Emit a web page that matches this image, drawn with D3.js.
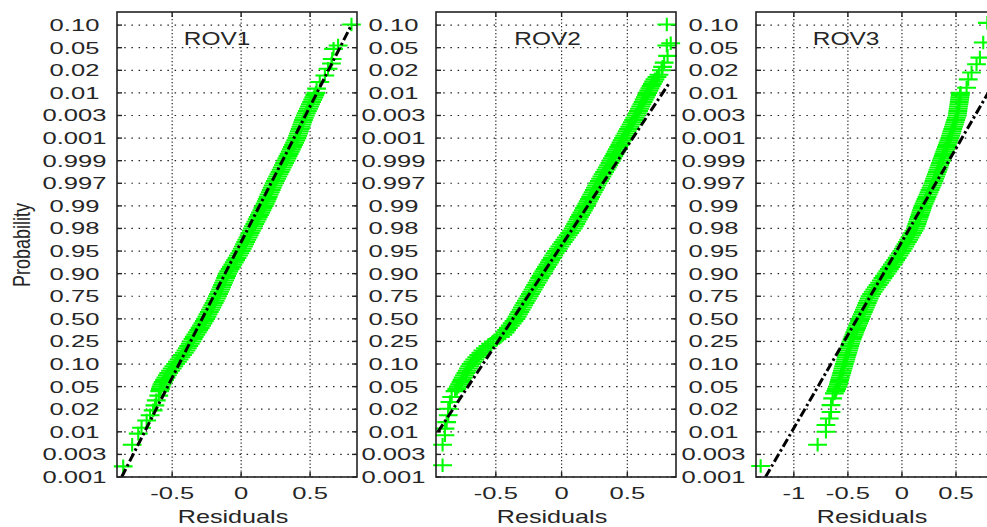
<!DOCTYPE html>
<html>
<head>
<meta charset="utf-8">
<script src="https://cdn.jsdelivr.net/npm/d3@7"></script>
<style>
  body { margin: 0; background: #fff; }
  svg { display: block; }
  text { font-family: "Liberation Sans", Arial, sans-serif; fill: #262626; }
</style>
</head>
<body>
<svg id="chart" width="987" height="527"></svg>
<script>
// ---- data ----
const panelNames = ["ROV1", "ROV2", "ROV3"];

// probability tick labels, bottom to top (one per grid row)
const yTickLabels = ["0.001", "0.003", "0.01", "0.02", "0.05", "0.10", "0.25", "0.50", "0.75",
  "0.90", "0.95", "0.98", "0.99", "0.997", "0.999", "0.001", "0.003", "0.01", "0.02", "0.05", "0.10"];

const xTickValues = [[-0.5, 0, 0.5], [-0.5, 0, 0.5], [-1, -0.5, 0, 0.5]];
const xDomains = [[-0.9, 0.84], [-0.955, 0.87], [-1.35, 0.87]];

// [probability row position, residual]
const rov1Points = [
  [0.47, -0.855], [1.43, -0.79], [1.92, -0.746], [2.18, -0.722], [2.5, -0.685], [2.73, -0.66],
  [2.95, -0.638], [3.17, -0.625], [3.39, -0.615], [3.6, -0.597],
  [3.8, -0.59], [3.9, -0.585], [4.0, -0.58], [4.1, -0.573], [4.2, -0.565], [4.3, -0.555],
  [4.4, -0.545], [4.5, -0.535], [4.6, -0.525], [4.7, -0.512], [4.8, -0.5], [4.9, -0.488],
  [5.0, -0.475], [5.1, -0.462], [5.2, -0.45], [5.3, -0.437], [5.4, -0.425], [5.5, -0.412],
  [5.6, -0.4], [5.7, -0.39], [5.8, -0.38], [5.9, -0.369], [6.0, -0.358], [6.1, -0.349],
  [6.2, -0.34], [6.3, -0.329], [6.4, -0.318], [6.5, -0.307], [6.6, -0.297], [6.7, -0.287],
  [6.8, -0.277], [6.9, -0.267], [7.0, -0.257], [7.1, -0.248], [7.2, -0.24], [7.3, -0.231],
  [7.4, -0.222], [7.5, -0.213], [7.6, -0.205], [7.7, -0.196], [7.8, -0.188], [7.9, -0.18],
  [8.0, -0.172], [8.1, -0.164], [8.2, -0.157], [8.3, -0.149], [8.4, -0.142], [8.5, -0.135],
  [8.6, -0.128], [8.7, -0.12], [8.8, -0.113], [8.9, -0.106], [9.0, -0.099], [9.1, -0.09],
  [9.2, -0.08], [9.3, -0.07], [9.4, -0.06], [9.5, -0.05], [9.6, -0.04], [9.7, -0.03],
  [9.8, -0.02], [9.9, -0.01], [10.0, 0.0], [10.1, 0.008], [10.2, 0.017], [10.3, 0.025],
  [10.4, 0.033], [10.5, 0.041], [10.6, 0.05], [10.7, 0.058], [10.8, 0.066], [10.9, 0.074],
  [11.0, 0.082], [11.1, 0.09], [11.2, 0.099], [11.3, 0.107], [11.4, 0.116], [11.5, 0.124],
  [11.6, 0.133], [11.7, 0.141], [11.8, 0.15], [11.9, 0.158], [12.0, 0.167], [12.1, 0.174],
  [12.2, 0.182], [12.3, 0.189], [12.4, 0.196], [12.5, 0.203], [12.6, 0.211], [12.7, 0.218],
  [12.8, 0.225], [12.9, 0.232], [13.0, 0.24], [13.1, 0.248], [13.2, 0.257], [13.3, 0.265],
  [13.4, 0.274], [13.5, 0.282], [13.6, 0.29], [13.7, 0.298], [13.8, 0.307], [13.9, 0.315],
  [14.0, 0.324], [14.1, 0.332], [14.2, 0.34], [14.3, 0.348], [14.4, 0.356], [14.5, 0.364],
  [14.6, 0.372], [14.7, 0.38], [14.8, 0.388], [14.9, 0.396], [15.0, 0.404], [15.1, 0.41],
  [15.2, 0.416], [15.3, 0.422], [15.4, 0.428], [15.5, 0.434], [15.6, 0.44], [15.7, 0.446],
  [15.8, 0.452], [15.9, 0.458], [16.0, 0.465], [16.1, 0.472], [16.2, 0.48], [16.3, 0.488],
  [16.4, 0.496], [16.5, 0.503], [16.6, 0.511], [16.7, 0.519], [16.8, 0.527], [16.9, 0.534],
  [17.0, 0.542], [17.19, 0.547], [17.48, 0.57], [17.77, 0.607], [18.07, 0.63], [18.3, 0.655],
  [18.5, 0.66], [18.95, 0.67], [19.1, 0.703], [20.03, 0.8]
];

const rov2Points = [
  [0.52, -0.905], [1.43, -0.905], [1.85, -0.887], [2.14, -0.887], [2.43, -0.874], [2.73, -0.862],
  [3.02, -0.862], [3.32, -0.849], [3.54, -0.836],
  [3.8, -0.81], [3.9, -0.797], [4.0, -0.785], [4.1, -0.775], [4.2, -0.765], [4.3, -0.757],
  [4.4, -0.748], [4.5, -0.738], [4.6, -0.728], [4.7, -0.718], [4.8, -0.708], [4.9, -0.698],
  [5.0, -0.688], [5.1, -0.674], [5.2, -0.66], [5.3, -0.645], [5.4, -0.63], [5.5, -0.614],
  [5.6, -0.598], [5.7, -0.579], [5.8, -0.56], [5.9, -0.54], [6.0, -0.52], [6.1, -0.492],
  [6.2, -0.465], [6.3, -0.447], [6.4, -0.43], [6.5, -0.418], [6.6, -0.405], [6.7, -0.39],
  [6.8, -0.376], [6.9, -0.362], [7.0, -0.348], [7.1, -0.338], [7.2, -0.328], [7.3, -0.318],
  [7.4, -0.308], [7.5, -0.298], [7.6, -0.288], [7.7, -0.278], [7.8, -0.268], [7.9, -0.257],
  [8.0, -0.247], [8.1, -0.237], [8.2, -0.227], [8.3, -0.217], [8.4, -0.207], [8.5, -0.197],
  [8.6, -0.187], [8.7, -0.176], [8.8, -0.166], [8.9, -0.156], [9.0, -0.146], [9.1, -0.135],
  [9.2, -0.125], [9.3, -0.114], [9.4, -0.103], [9.5, -0.092], [9.6, -0.082], [9.7, -0.071],
  [9.8, -0.06], [9.9, -0.049], [10.0, -0.038], [10.1, -0.025], [10.2, -0.013], [10.3, 0.0],
  [10.4, 0.012], [10.5, 0.025], [10.6, 0.037], [10.7, 0.05], [10.8, 0.062], [10.9, 0.075],
  [11.0, 0.088], [11.1, 0.097], [11.2, 0.107], [11.3, 0.116], [11.4, 0.126], [11.5, 0.135],
  [11.6, 0.145], [11.7, 0.155], [11.8, 0.165], [11.9, 0.174], [12.0, 0.184], [12.1, 0.193],
  [12.2, 0.203], [12.3, 0.212], [12.4, 0.221], [12.5, 0.23], [12.6, 0.24], [12.7, 0.249],
  [12.8, 0.258], [12.9, 0.267], [13.0, 0.277], [13.1, 0.287], [13.2, 0.297], [13.3, 0.307],
  [13.4, 0.317], [13.5, 0.327], [13.6, 0.338], [13.7, 0.348], [13.8, 0.358], [13.9, 0.368],
  [14.0, 0.378], [14.1, 0.387], [14.2, 0.397], [14.3, 0.406], [14.4, 0.415], [14.5, 0.424],
  [14.6, 0.434], [14.7, 0.443], [14.8, 0.452], [14.9, 0.461], [15.0, 0.471], [15.1, 0.48],
  [15.2, 0.49], [15.3, 0.499], [15.4, 0.509], [15.5, 0.519], [15.6, 0.529], [15.7, 0.538],
  [15.8, 0.548], [15.9, 0.557], [16.0, 0.567], [16.1, 0.576], [16.2, 0.585], [16.3, 0.593],
  [16.4, 0.602], [16.5, 0.611], [16.6, 0.62], [16.7, 0.628], [16.8, 0.637], [16.9, 0.646],
  [17.0, 0.655], [17.1, 0.663], [17.2, 0.672], [17.3, 0.681], [17.4, 0.69], [17.5, 0.7],
  [17.6, 0.71], [17.7, 0.725], [17.8, 0.74],
  [18.0, 0.76], [18.15, 0.768], [18.34, 0.78], [18.64, 0.806], [19.1, 0.8], [19.2, 0.83], [20.03, 0.8]
];

const rov3Points = [
  [0.49, -1.307], [1.43, -0.78], [2.0, -0.703], [2.3, -0.703], [2.59, -0.672], [2.88, -0.656],
  [3.18, -0.656], [3.48, -0.641], [3.7, -0.625],
  [3.8, -0.612], [3.9, -0.605], [4.0, -0.594], [4.1, -0.588], [4.2, -0.582], [4.3, -0.576],
  [4.4, -0.57], [4.5, -0.563], [4.6, -0.557], [4.7, -0.551], [4.8, -0.545], [4.9, -0.539],
  [5.0, -0.533], [5.1, -0.526], [5.2, -0.52], [5.3, -0.514], [5.4, -0.508], [5.5, -0.501],
  [5.6, -0.495], [5.7, -0.489], [5.8, -0.483], [5.9, -0.476], [6.0, -0.47], [6.1, -0.461],
  [6.2, -0.453], [6.3, -0.444], [6.4, -0.436], [6.5, -0.427], [6.6, -0.419], [6.7, -0.41],
  [6.8, -0.401], [6.9, -0.392], [7.0, -0.384], [7.1, -0.375], [7.2, -0.366], [7.3, -0.357],
  [7.4, -0.348], [7.5, -0.339], [7.6, -0.33], [7.7, -0.321], [7.8, -0.312], [7.9, -0.303],
  [8.0, -0.294], [8.1, -0.28], [8.2, -0.266], [8.3, -0.251], [8.4, -0.236], [8.5, -0.221],
  [8.6, -0.206], [8.7, -0.191], [8.8, -0.176], [8.9, -0.161], [9.0, -0.146], [9.1, -0.131],
  [9.2, -0.117], [9.3, -0.102], [9.4, -0.088], [9.5, -0.073], [9.6, -0.058], [9.7, -0.044],
  [9.8, -0.029], [9.9, -0.015], [10.0, 0.0], [10.1, 0.012], [10.2, 0.025], [10.3, 0.037],
  [10.4, 0.05], [10.5, 0.062], [10.6, 0.074], [10.7, 0.087], [10.8, 0.099], [10.9, 0.111],
  [11.0, 0.124], [11.1, 0.131], [11.2, 0.138], [11.3, 0.145], [11.4, 0.152], [11.5, 0.16],
  [11.6, 0.167], [11.7, 0.174], [11.8, 0.181], [11.9, 0.188], [12.0, 0.195], [12.1, 0.205],
  [12.2, 0.214], [12.3, 0.223], [12.4, 0.232], [12.5, 0.242], [12.6, 0.251], [12.7, 0.26],
  [12.8, 0.269], [12.9, 0.279], [13.0, 0.288], [13.1, 0.296], [13.2, 0.303], [13.3, 0.311],
  [13.4, 0.319], [13.5, 0.327], [13.6, 0.334], [13.7, 0.342], [13.8, 0.35], [13.9, 0.357],
  [14.0, 0.365], [14.1, 0.373], [14.2, 0.381], [14.3, 0.388], [14.4, 0.396], [14.5, 0.404],
  [14.6, 0.412], [14.7, 0.419], [14.8, 0.427], [14.9, 0.435], [15.0, 0.443], [15.1, 0.45],
  [15.2, 0.457], [15.3, 0.463], [15.4, 0.47], [15.5, 0.477], [15.6, 0.484], [15.7, 0.49],
  [15.8, 0.497], [15.9, 0.504], [16.0, 0.511], [16.1, 0.514], [16.2, 0.517], [16.3, 0.52],
  [16.4, 0.523], [16.5, 0.527], [16.6, 0.53], [16.7, 0.533], [16.8, 0.536], [16.9, 0.539],
  [17.0, 0.542], [17.23, 0.598], [17.6, 0.613], [17.9, 0.644], [18.27, 0.69], [18.56, 0.721],
  [19.23, 0.752], [20.1, 0.79]
];

// fitted reference lines: [row position, residual] at both ends
const rov1Line = [[0.0, -0.866], [19.95, 0.795]];
const rov2Line = [[2.0, -0.94], [17.45, 0.82]];
const rov3Line = [[0.0, -1.262], [17.6, 0.87]];

const seriesPoints = [rov1Points, rov2Points, rov3Points];
const seriesLines = [rov1Line, rov2Line, rov3Line];

// ---- layout ----
const svg = d3.select("#chart");
const panelLeft = [117, 436, 756];
const panelWidth = 240;
const plotTop = 12, plotBottom = 477;
const titleOffset = [100, 111.5, 90];
const textStretch = 1.55;   // wide glyphs on tick labels
const labelStretch = 1.4;

const y = d3.scaleLinear().domain([0, 20.58]).range([plotBottom, plotTop]);
const rowTicks = d3.range(yTickLabels.length);

svg.append("text")
  .attr("transform", `translate(30,245) scale(1.35,1) rotate(-90)`)
  .attr("text-anchor", "middle")
  .style("font-size", "18px")
  .text("Probability");

panelNames.forEach((name, p) => {
  const x0 = panelLeft[p];
  const x = d3.scaleLinear().domain(xDomains[p]).range([x0, x0 + panelWidth]);
  const g = svg.append("g");

  // dotted grid
  g.selectAll(".hgrid").data(rowTicks).join("line")
    .attr("x1", x0).attr("x2", x0 + panelWidth)
    .attr("y1", d => y(d)).attr("y2", d => y(d))
    .attr("stroke", "#222").attr("stroke-width", 1.2)
    .attr("stroke-dasharray", "1.5,5.7");
  g.selectAll(".vgrid").data(xTickValues[p]).join("line")
    .attr("x1", d => x(d)).attr("x2", d => x(d))
    .attr("y1", plotTop).attr("y2", plotBottom)
    .attr("stroke", "#222").attr("stroke-width", 1.2)
    .attr("stroke-dasharray", "1.2,2.3");

  // inward tick marks on all four sides
  const tk = 5;
  rowTicks.forEach(d => {
    g.append("line").attr("x1", x0).attr("x2", x0 + tk).attr("y1", y(d)).attr("y2", y(d))
      .attr("stroke", "#222").attr("stroke-width", 1.4);
    g.append("line").attr("x1", x0 + panelWidth - tk).attr("x2", x0 + panelWidth).attr("y1", y(d)).attr("y2", y(d))
      .attr("stroke", "#222").attr("stroke-width", 1.4);
  });
  xTickValues[p].forEach(d => {
    g.append("line").attr("x1", x(d)).attr("x2", x(d)).attr("y1", plotBottom - tk).attr("y2", plotBottom)
      .attr("stroke", "#222").attr("stroke-width", 1.4);
    g.append("line").attr("x1", x(d)).attr("x2", x(d)).attr("y1", plotTop).attr("y2", plotTop + tk)
      .attr("stroke", "#222").attr("stroke-width", 1.4);
  });

  // probability labels
  g.selectAll(".ylab").data(rowTicks).join("text")
    .attr("transform", d => `translate(${x0 - 42.5},${y(d)}) scale(${textStretch},1)`)
    .attr("text-anchor", "middle")
    .attr("dy", "0.36em")
    .style("font-size", "16.5px")
    .text(d => yTickLabels[d]);

  // residual labels
  g.selectAll(".xlab").data(xTickValues[p]).join("text")
    .attr("transform", d => `translate(${x(d)},${plotBottom + 22}) scale(${textStretch},1)`)
    .attr("text-anchor", "middle")
    .style("font-size", "16.5px")
    .text(d => d3.format("")(d).replace("\u2212", "-"));

  g.append("text")
    .attr("transform", `translate(${x0 + panelWidth / 2 - 4},${plotBottom + 46}) scale(${labelStretch},1)`)
    .attr("text-anchor", "middle")
    .style("font-size", "18px")
    .text("Residuals");

  g.append("text")
    .attr("transform", `translate(${x0 + titleOffset[p]},45) scale(1.32,1)`)
    .attr("text-anchor", "middle")
    .style("font-size", "18.5px")
    .text(name);

  // plus markers
  const hw = 9.4, hh = 6.8;
  g.selectAll(".pt").data(seriesPoints[p]).join("path")
    .attr("d", d => {
      const cx = x(d[1]), cy = y(d[0]);
      return `M${cx - hw},${cy}H${cx + hw}M${cx},${cy - hh}V${cy + hh}`;
    })
    .attr("fill", "none")
    .attr("stroke", "#00ff00")
    .attr("stroke-width", 2.1);

  // reference line
  g.append("path")
    .datum(seriesLines[p])
    .attr("d", d3.line().x(d => x(d[1])).y(d => y(d[0])))
    .attr("fill", "none")
    .attr("stroke", "#000")
    .attr("stroke-width", 3)
    .attr("stroke-dasharray", "9,3,2.5,3");

  // axes box
  g.append("rect")
    .attr("x", x0).attr("y", plotTop)
    .attr("width", panelWidth).attr("height", plotBottom - plotTop)
    .attr("fill", "none").attr("stroke", "#222").attr("stroke-width", 1.6);
});
</script>
</body>
</html>
